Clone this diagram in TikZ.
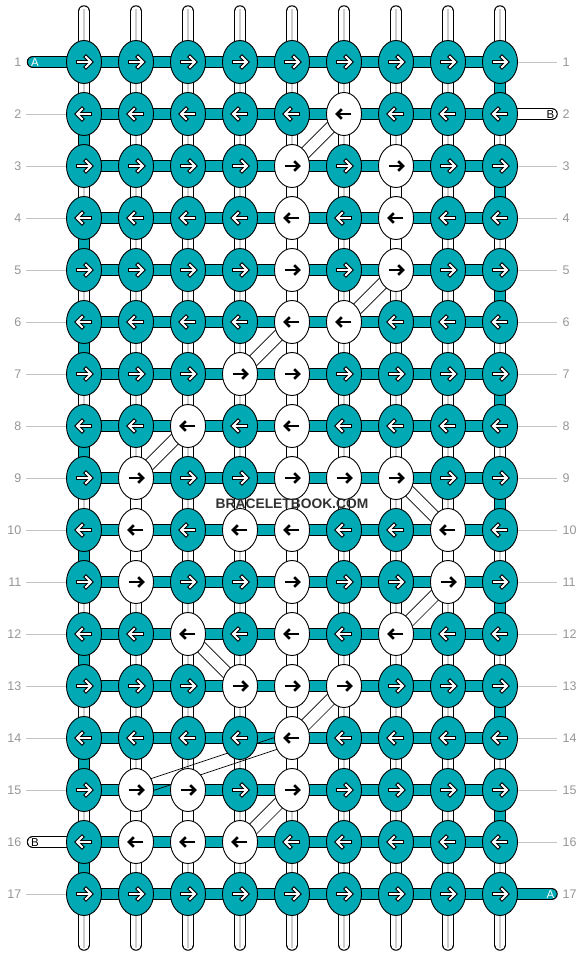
\documentclass[tikz,border=0pt]{standalone}
\usepackage{fontspec}
\setmainfont{Liberation Sans}
\usepackage{xstring}
\usetikzlibrary{shapes.geometric,calc}
\definecolor{tealk}{RGB}{0,169,180}
\definecolor{lblgray}{RGB}{150,150,150}
\definecolor{guidegray}{RGB}{195,195,195}
\definecolor{stripegray}{RGB}{205,205,205}
\definecolor{markgray}{RGB}{50,50,50}
\pgfdeclarelayer{back}
\pgfdeclarelayer{mid}
\pgfsetlayers{back,mid,main}
\tikzset{
  knot/.style={ellipse, draw=black, line width=0.9pt, minimum width=35pt, minimum height=43pt, inner sep=0pt},
  rownum/.style={font=\fontsize{12.5}{12.5}\selectfont, text=lblgray, inner sep=0pt},
  guide/.style={draw=guidegray, line width=0.8pt},
  threadout/.style={line width=12.5pt, draw=black},
  threadin/.style={line width=10.5pt},
  diag/.style={draw=black, line width=0.7pt},
  arrowout/.style={line width=4.2pt, draw=black, miter limit=10},
  arrowin/.style={line width=2pt, draw=white, miter limit=10},
  arrowblk/.style={line width=2.5pt, draw=black, miter limit=10},
  pilltext/.style={font=\fontsize{11.5}{11.5}\selectfont, inner sep=0pt},
}
\def\whitelist{,2-6,3-5,3-7,4-5,4-7,5-5,5-7,6-5,6-6,7-4,7-5,8-3,8-5,9-2,9-5,9-6,9-7,10-2,10-4,10-5,10-8,11-2,11-5,11-8,12-3,12-5,12-7,13-4,13-5,13-6,14-5,15-2,15-3,15-5,16-2,16-3,16-4,}
\begin{document}
\begin{tikzpicture}[x=1pt,y=-1pt]
\useasboundingbox (0,0) rectangle (584,956);
% knots with arrows
\foreach \row in {1,...,17}{
  \foreach \col in {1,...,9}{
    \pgfmathsetmacro{\xx}{32+52*\col}
    \pgfmathsetmacro{\yy}{10+52*\row}
    \ifodd\row \def\dd{1}\else\def\dd{-1}\fi
    \IfSubStr{\whitelist}{,\row-\col,}{%
      \node[knot, fill=white] (k-\row-\col) at (\xx,\yy) {};
      \draw[arrowblk, shift={(k-\row-\col.center)}, xscale=\dd] (-7,0) -- (6,0);
      \draw[arrowblk, shift={(k-\row-\col.center)}, xscale=\dd] (2.2,-4.8) -- (7,0) -- (2.2,4.8);
    }{%
      \node[knot, fill=tealk] (k-\row-\col) at (\xx,\yy) {};
      \draw[arrowout, shift={(k-\row-\col.center)}, xscale=\dd] (-8.1,0) -- (7,0);
      \draw[arrowout, line cap=rect, shift={(k-\row-\col.center)}, xscale=\dd] (2,-5) -- (7,0) -- (2,5);
      \draw[arrowin, shift={(k-\row-\col.center)}, xscale=\dd] (-7,0) -- (7,0);
      \draw[arrowin, line cap=rect, shift={(k-\row-\col.center)}, xscale=\dd] (2,-5) -- (7,0) -- (2,5);
    }
  }
}
% background: vertical base strands
\begin{pgfonlayer}{back}
\fill[white] (0,0) rectangle (584,956);
\foreach \col in {1,...,9}{
  \pgfmathsetmacro{\xx}{32+52*\col}
  \coordinate (top-\col) at (\xx,11.5);
  \coordinate (bot-\col) at (\xx,944.5);
  \draw[threadout, line cap=round] (top-\col) -- (bot-\col);
  \draw[threadin, white, line cap=round] (top-\col) -- (bot-\col);
  \draw[stripegray, line width=2pt] ($(top-\col)+(0,-3)$) -- ($(bot-\col)+(0,3)$);
}
\end{pgfonlayer}
\begin{pgfonlayer}{mid}
% guide lines
\foreach \row in {1,...,17}{
  \pgfmathsetmacro{\yy}{10+52*\row}
  \coordinate (gl-\row) at (26,\yy);
  \coordinate (gr-\row) at (557,\yy);
  \ifnum\row=1 \else\ifnum\row=16 \else
    \draw[guide] (gl-\row) -- (k-\row-1.west);
  \fi\fi
  \ifnum\row=2 \else\ifnum\row=17 \else
    \draw[guide] (k-\row-9.east) -- (gr-\row);
  \fi\fi
}
% horizontal working threads
\foreach \row in {1,...,17}{
  \draw[threadout] (k-\row-1.center) -- (k-\row-9.center);
  \draw[threadin, tealk] (k-\row-1.center) -- (k-\row-9.center);
}
% teal turns at the edges
\foreach \row [evaluate=\row as \nx using int(\row+1)] in {2,4,...,16}{
  \draw[threadout] (k-\row-1.center) -- (k-\nx-1.center);
  \draw[threadin, tealk] (k-\row-1.center) -- (k-\nx-1.center);
}
\foreach \row [evaluate=\row as \nx using int(\row+1)] in {1,3,...,15}{
  \draw[threadout] (k-\row-9.center) -- (k-\nx-9.center);
  \draw[threadin, tealk] (k-\row-9.center) -- (k-\nx-9.center);
}
% plain white vertical runs of thread B
\foreach \row/\col [evaluate=\row as \nx using int(\row+1)] in {3/5,4/5,5/5,6/5,7/5,8/5,9/5,10/5,11/5,12/5,13/5,14/5,3/7,4/7,15/3,9/2,10/2,15/2,10/8}{
  \draw[threadin, white] (k-\row-\col.center) -- (k-\nx-\col.center);
}
% diagonal runs of thread B
\foreach \ra/\ca/\rb/\cb in {2/6/3/5, 5/7/6/6, 6/5/7/4, 8/3/9/2, 9/7/10/8, 11/8/12/7, 12/3/13/4, 13/6/14/5, 14/5/15/2, 15/5/16/4}{
  \draw[diag] ($(k-\ra-\ca.center)!6pt!90:(k-\rb-\cb.center)$) -- ($(k-\rb-\cb.center)!6pt!-90:(k-\ra-\ca.center)$);
  \draw[diag] ($(k-\ra-\ca.center)!6pt!-90:(k-\rb-\cb.center)$) -- ($(k-\rb-\cb.center)!6pt!90:(k-\ra-\ca.center)$);
}
% thread ends
\coordinate (pa-1) at (33,62);
\coordinate (pb-2) at (551.5,114);
\coordinate (pb-16) at (33,842);
\coordinate (pa-17) at (551.5,894);
\draw[threadout, line cap=round] (pa-1) -- (k-1-1.center);
\draw[threadin, tealk, line cap=round] (pa-1) -- (k-1-1.center);
\draw[threadout, line cap=round] (pa-17) -- (k-17-9.center);
\draw[threadin, tealk, line cap=round] (pa-17) -- (k-17-9.center);
\draw[threadout, line cap=round] (pb-2) -- (k-2-9.center);
\draw[threadin, white, line cap=round] (pb-2) -- (k-2-9.center);
\draw[threadout, line cap=round] (pb-16) -- (k-16-1.center);
\draw[threadin, white, line cap=round] (pb-16) -- (k-16-1.center);
\end{pgfonlayer}
% thread letters
\node[pilltext, text=white] (ta-1) at (35,62.5) {A};
\node[pilltext, text=white] (ta-17) at (550.5,894.5) {A};
\node[pilltext, text=black] (tb-2) at (550.5,114.5) {B};
\node[pilltext, text=black] (tb-16) at (35,842.5) {B};
% row numbers
\foreach \row in {1,...,17}{
  \pgfmathsetmacro{\yy}{10+52*\row}
  \node[rownum, anchor=east] (nl-\row) at (21.5,\yy) {\row};
  \node[rownum, anchor=west] (nr-\row) at (562.5,\yy) {\row};
}
% watermark
\node[font=\bfseries\fontsize{13.8}{13.8}\selectfont, text=markgray, inner sep=0pt] (wm) at (292,503.5) {BRACELETBOOK.COM};
\end{tikzpicture}
\end{document}
